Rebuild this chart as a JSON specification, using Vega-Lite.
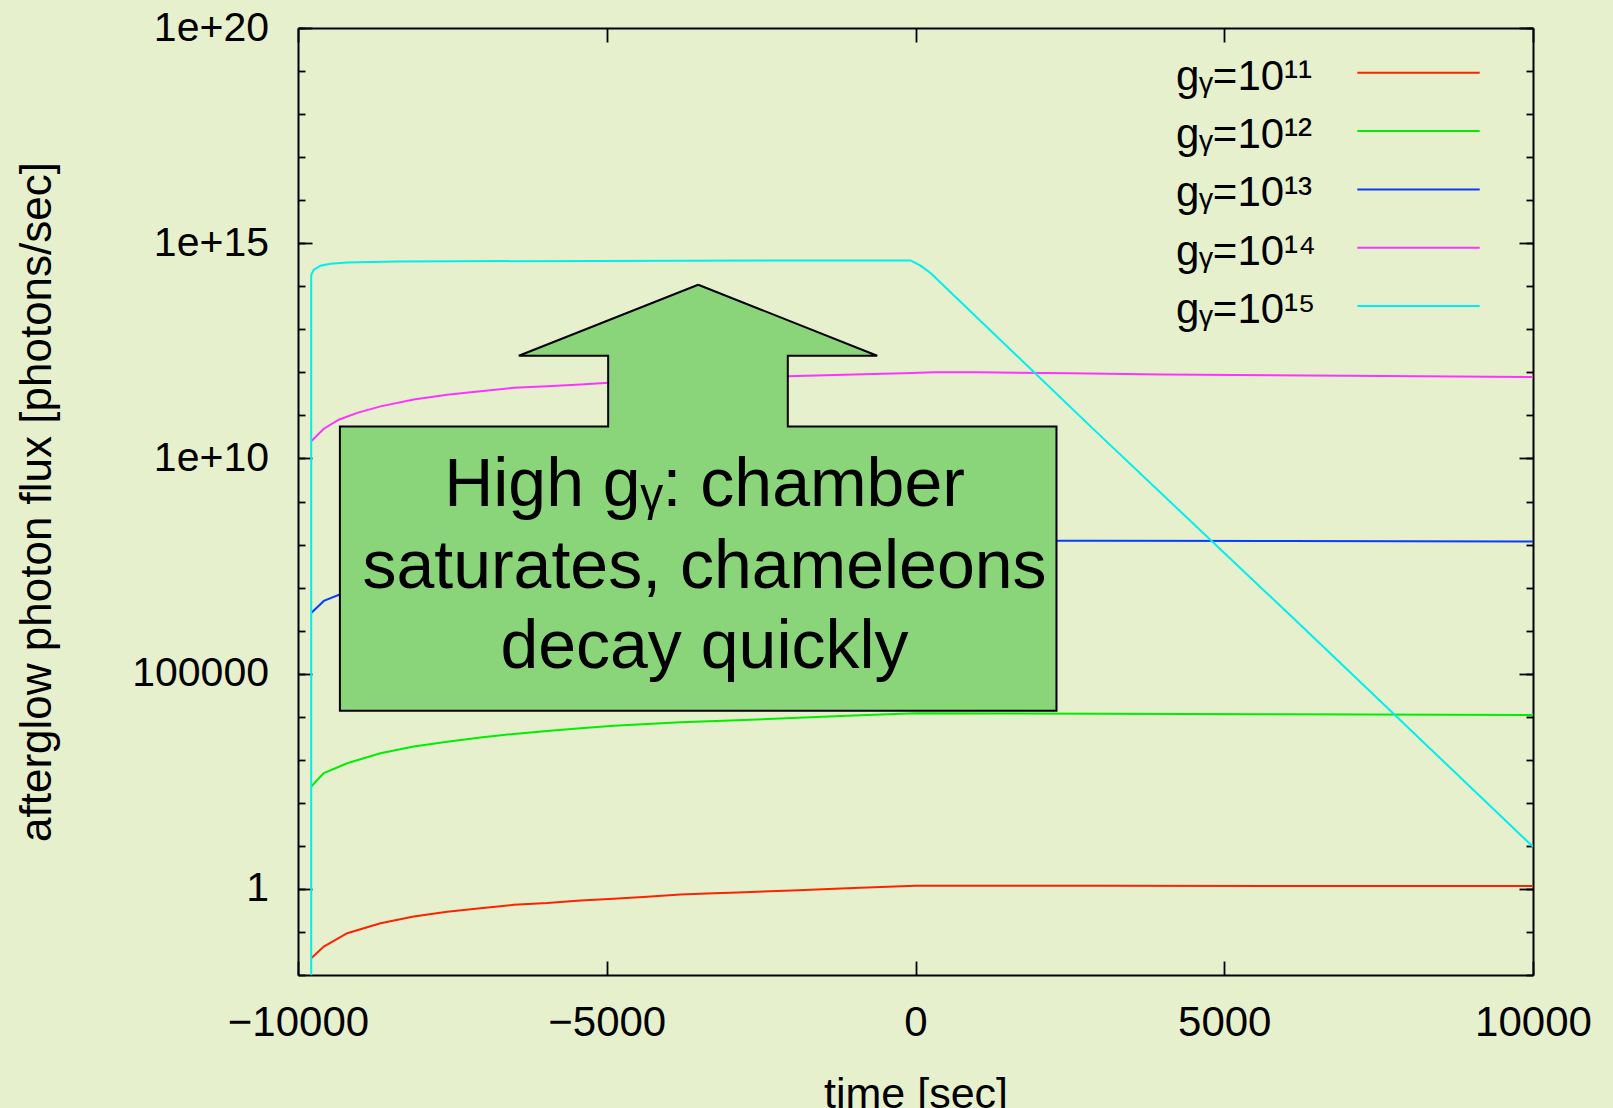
{
  "$schema": "https://vega.github.io/schema/vega-lite/v6.json",
  "width": 1235,
  "height": 947,
  "autosize": {"type": "none"},
  "padding": {"left": 298, "top": 28, "right": 80, "bottom": 133},
  "background": "#e6f0cd",
  "config": {
    "view": {"stroke": null, "fill": "#e6f0cd"},
    "font": "Liberation Sans",
    "axis": {"grid": false, "domainColor": "#000", "domainWidth": 2, "tickColor": "#000", "tickWidth": 1.8, "labelColor": "#000", "titleColor": "#000", "labelFont": "Liberation Sans", "titleFont": "Liberation Sans", "titleFontWeight": "normal", "labelFlush": false, "labelOverlap": false}
  },
  "datasets": {
    "curves": [
      {"s": "gᵧ=10¹¹", "t": -9786, "f": 0.02455, "i": 0},
      {"s": "gᵧ=10¹¹", "t": -9582, "f": 0.04571, "i": 1},
      {"s": "gᵧ=10¹¹", "t": -9203, "f": 0.09333, "i": 2},
      {"s": "gᵧ=10¹¹", "t": -8664, "f": 0.1585, "i": 3},
      {"s": "gᵧ=10¹¹", "t": -8125, "f": 0.2291, "i": 4},
      {"s": "gᵧ=10¹¹", "t": -7585, "f": 0.2951, "i": 5},
      {"s": "gᵧ=10¹¹", "t": -7045, "f": 0.3548, "i": 6},
      {"s": "gᵧ=10¹¹", "t": -6505, "f": 0.4266, "i": 7},
      {"s": "gᵧ=10¹¹", "t": -5964, "f": 0.4677, "i": 8},
      {"s": "gᵧ=10¹¹", "t": -5425, "f": 0.537, "i": 9},
      {"s": "gᵧ=10¹¹", "t": -4887, "f": 0.5888, "i": 10},
      {"s": "gᵧ=10¹¹", "t": -4346, "f": 0.6607, "i": 11},
      {"s": "gᵧ=10¹¹", "t": -3806, "f": 0.7413, "i": 12},
      {"s": "gᵧ=10¹¹", "t": -3267, "f": 0.7943, "i": 13},
      {"s": "gᵧ=10¹¹", "t": -2997, "f": 0.8128, "i": 14},
      {"s": "gᵧ=10¹¹", "t": -2000, "f": 0.9226, "i": 15},
      {"s": "gᵧ=10¹¹", "t": -1000, "f": 1.047, "i": 16},
      {"s": "gᵧ=10¹¹", "t": 0, "f": 1.189, "i": 17},
      {"s": "gᵧ=10¹¹", "t": 3000, "f": 1.18, "i": 18},
      {"s": "gᵧ=10¹¹", "t": 6000, "f": 1.175, "i": 19},
      {"s": "gᵧ=10¹¹", "t": 10000, "f": 1.17, "i": 20},
      {"s": "gᵧ=10¹²", "t": -9786, "f": 239.9, "i": 0},
      {"s": "gᵧ=10¹²", "t": -9582, "f": 489.8, "i": 1},
      {"s": "gᵧ=10¹²", "t": -9203, "f": 831.8, "i": 2},
      {"s": "gᵧ=10¹²", "t": -8664, "f": 1413, "i": 3},
      {"s": "gᵧ=10¹²", "t": -8125, "f": 2042, "i": 4},
      {"s": "gᵧ=10¹²", "t": -7585, "f": 2630, "i": 5},
      {"s": "gᵧ=10¹²", "t": -7045, "f": 3311, "i": 6},
      {"s": "gᵧ=10¹²", "t": -6505, "f": 3981, "i": 7},
      {"s": "gᵧ=10¹²", "t": -5964, "f": 4677, "i": 8},
      {"s": "gᵧ=10¹²", "t": -5425, "f": 5370, "i": 9},
      {"s": "gᵧ=10¹²", "t": -4887, "f": 6166, "i": 10},
      {"s": "gᵧ=10¹²", "t": -4346, "f": 6761, "i": 11},
      {"s": "gᵧ=10¹²", "t": -3806, "f": 7413, "i": 12},
      {"s": "gᵧ=10¹²", "t": -2997, "f": 8128, "i": 13},
      {"s": "gᵧ=10¹²", "t": -2000, "f": 9333, "i": 14},
      {"s": "gᵧ=10¹²", "t": -1000, "f": 10715, "i": 15},
      {"s": "gᵧ=10¹²", "t": 0, "f": 12023, "i": 16},
      {"s": "gᵧ=10¹²", "t": 3000, "f": 11749, "i": 17},
      {"s": "gᵧ=10¹²", "t": 6000, "f": 11350, "i": 18},
      {"s": "gᵧ=10¹²", "t": 10000, "f": 10965, "i": 19},
      {"s": "gᵧ=10¹³", "t": -9786, "f": 2.57e6, "i": 0},
      {"s": "gᵧ=10¹³", "t": -9582, "f": 4.898e6, "i": 1},
      {"s": "gᵧ=10¹³", "t": -9203, "f": 8.128e6, "i": 2},
      {"s": "gᵧ=10¹³", "t": -8664, "f": 1.38e7, "i": 3},
      {"s": "gᵧ=10¹³", "t": -8125, "f": 1.995e7, "i": 4},
      {"s": "gᵧ=10¹³", "t": -7585, "f": 2.57e7, "i": 5},
      {"s": "gᵧ=10¹³", "t": -7045, "f": 3.236e7, "i": 6},
      {"s": "gᵧ=10¹³", "t": -6505, "f": 3.89e7, "i": 7},
      {"s": "gᵧ=10¹³", "t": -5964, "f": 4.571e7, "i": 8},
      {"s": "gᵧ=10¹³", "t": -5425, "f": 5.248e7, "i": 9},
      {"s": "gᵧ=10¹³", "t": -4887, "f": 6.026e7, "i": 10},
      {"s": "gᵧ=10¹³", "t": -4346, "f": 6.761e7, "i": 11},
      {"s": "gᵧ=10¹³", "t": -3806, "f": 7.413e7, "i": 12},
      {"s": "gᵧ=10¹³", "t": -2997, "f": 8.128e7, "i": 13},
      {"s": "gᵧ=10¹³", "t": -2000, "f": 9.333e7, "i": 14},
      {"s": "gᵧ=10¹³", "t": -1000, "f": 1.072e8, "i": 15},
      {"s": "gᵧ=10¹³", "t": 0, "f": 1.23e8, "i": 16},
      {"s": "gᵧ=10¹³", "t": 3000, "f": 1.23e8, "i": 17},
      {"s": "gᵧ=10¹³", "t": 6000, "f": 1.202e8, "i": 18},
      {"s": "gᵧ=10¹³", "t": 10000, "f": 1.175e8, "i": 19},
      {"s": "gᵧ=10¹⁴", "t": -9786, "f": 2.512e10, "i": 0},
      {"s": "gᵧ=10¹⁴", "t": -9582, "f": 4.898e10, "i": 1},
      {"s": "gᵧ=10¹⁴", "t": -9339, "f": 7.943e10, "i": 2},
      {"s": "gᵧ=10¹⁴", "t": -9041, "f": 1.148e11, "i": 3},
      {"s": "gᵧ=10¹⁴", "t": -8664, "f": 1.622e11, "i": 4},
      {"s": "gᵧ=10¹⁴", "t": -8125, "f": 2.344e11, "i": 5},
      {"s": "gᵧ=10¹⁴", "t": -7585, "f": 3.02e11, "i": 6},
      {"s": "gᵧ=10¹⁴", "t": -7045, "f": 3.631e11, "i": 7},
      {"s": "gᵧ=10¹⁴", "t": -6505, "f": 4.365e11, "i": 8},
      {"s": "gᵧ=10¹⁴", "t": -5964, "f": 4.786e11, "i": 9},
      {"s": "gᵧ=10¹⁴", "t": -5425, "f": 5.248e11, "i": 10},
      {"s": "gᵧ=10¹⁴", "t": -4967, "f": 5.754e11, "i": 11},
      {"s": "gᵧ=10¹⁴", "t": -4000, "f": 6.457e11, "i": 12},
      {"s": "gᵧ=10¹⁴", "t": -3000, "f": 7.244e11, "i": 13},
      {"s": "gᵧ=10¹⁴", "t": -2068, "f": 8.128e11, "i": 14},
      {"s": "gᵧ=10¹⁴", "t": -1000, "f": 8.913e11, "i": 15},
      {"s": "gᵧ=10¹⁴", "t": -190, "f": 9.55e11, "i": 16},
      {"s": "gᵧ=10¹⁴", "t": 300, "f": 1.0e12, "i": 17},
      {"s": "gᵧ=10¹⁴", "t": 1000, "f": 1.0e12, "i": 18},
      {"s": "gᵧ=10¹⁴", "t": 2500, "f": 9.55e11, "i": 19},
      {"s": "gᵧ=10¹⁴", "t": 4000, "f": 8.913e11, "i": 20},
      {"s": "gᵧ=10¹⁴", "t": 7000, "f": 8.318e11, "i": 21},
      {"s": "gᵧ=10¹⁴", "t": 10000, "f": 7.762e11, "i": 22},
      {"s": "gᵧ=10¹⁵", "t": -9786, "f": 1e-5, "i": 0},
      {"s": "gᵧ=10¹⁵", "t": -9786, "f": 1.858e14, "i": 1},
      {"s": "gᵧ=10¹⁵", "t": -9744, "f": 2.427e14, "i": 2},
      {"s": "gᵧ=10¹⁵", "t": -9636, "f": 3.006e14, "i": 3},
      {"s": "gᵧ=10¹⁵", "t": -9474, "f": 3.342e14, "i": 4},
      {"s": "gᵧ=10¹⁵", "t": -9203, "f": 3.589e14, "i": 5},
      {"s": "gᵧ=10¹⁵", "t": -8394, "f": 3.784e14, "i": 6},
      {"s": "gᵧ=10¹⁵", "t": -3806, "f": 3.926e14, "i": 7},
      {"s": "gᵧ=10¹⁵", "t": -81, "f": 3.981e14, "i": 8},
      {"s": "gᵧ=10¹⁵", "t": 81, "f": 3.006e14, "i": 9},
      {"s": "gᵧ=10¹⁵", "t": 243, "f": 2.032e14, "i": 10},
      {"s": "gᵧ=10¹⁵", "t": 2834, "f": 5.559e10, "i": 11},
      {"s": "gᵧ=10¹⁵", "t": 6235, "f": 1.349e6, "i": 12},
      {"s": "gᵧ=10¹⁵", "t": 10000, "f": 9.55, "i": 13}
    ],
    "arrow": [
      {"t": -3519, "f": 1.0864e14, "i": 0},
      {"t": -620, "f": 2.438e12, "i": 1},
      {"t": -2068, "f": 2.438e12, "i": 2},
      {"t": -2068, "f": 5.559e10, "i": 3},
      {"t": 2283, "f": 5.559e10, "i": 4},
      {"t": 2283, "f": 13804, "i": 5},
      {"t": -9321.5, "f": 13804, "i": 6},
      {"t": -9321.5, "f": 5.559e10, "i": 7},
      {"t": -4977, "f": 5.559e10, "i": 8},
      {"t": -4977, "f": 2.438e12, "i": 9},
      {"t": -6424, "f": 2.438e12, "i": 10},
      {"t": -3519, "f": 1.0864e14, "i": 11}
    ],
    "note": [
      {"t": -3417, "f": 7.691e8, "txt": "High gᵧ: chamber"},
      {"t": -3417, "f": 9.772e6, "txt": "saturates, chameleons"},
      {"t": -3417, "f": 1.3552e5, "txt": "decay quickly"}
    ]
  },
  "resolve": {"axis": {"x": "independent", "y": "independent"}},
  "layer": [
    {
      "data": {"name": "curves"},
      "mark": {"type": "line", "strokeWidth": 2, "clip": true},
      "encoding": {
        "x": {"field": "t", "type": "quantitative",
          "scale": {"domain": [-10000, 10000], "nice": false, "zero": false},
          "axis": {"orient": "bottom", "values": [-10000, -5000, 0, 5000, 10000], "format": "d", "tickSize": -14, "labelFontSize": 42, "labelPadding": 41, "title": "time [sec]", "titleFontSize": 43, "titlePadding": 30}},
        "y": {"field": "f", "type": "quantitative",
          "scale": {"type": "log", "domain": [0.01, 1e20], "nice": false},
          "axis": {"orient": "left", "values": [1, 100000, 1e10, 1e15, 1e20], "tickSize": -14, "labelFontSize": 41, "labelPadding": 43.5,
            "labelExpr": "datum.value >= 1e10 ? '1e+' + round(log(datum.value)/LN10) : format(datum.value, 'd')",
            "title": "afterglow photon flux [photons/sec]", "titleFontSize": 44, "titlePadding": 72}},
        "color": {"field": "s", "type": "nominal",
          "scale": {"domain": ["gᵧ=10¹¹", "gᵧ=10¹²", "gᵧ=10¹³", "gᵧ=10¹⁴", "gᵧ=10¹⁵"], "range": ["#ff2200", "#00ee00", "#0a3cff", "#ff33ff", "#00eeee"]},
          "legend": {"orient": "none", "legendX": 1099, "legendY": 23.3, "title": null, "direction": "vertical", "symbolType": "M-3,0H3", "symbolSize": 1665, "symbolStrokeWidth": 2, "labelFont": "Liberation Sans", "labelFontSize": 42, "labelColor": "#000", "labelAlign": "left", "labelOffset": -264, "labelLimit": 500, "rowPadding": 11.3, "padding": 0,
            "encode": {"labels": {"update": {"dy": {"value": 4}}}}}},
        "order": {"field": "i", "type": "quantitative"}
      }
    },
    {
      "data": {"name": "arrow"},
      "mark": {"type": "line", "fill": "#8ad57a", "strokeOpacity": 0},
      "encoding": {
        "x": {"field": "t", "type": "quantitative",
          "scale": {"domain": [-10000, 10000], "nice": false, "zero": false},
          "axis": {"orient": "top", "values": [-10000, -5000, 0, 5000, 10000], "tickSize": -14, "labels": false, "title": null}},
        "y": {"field": "f", "type": "quantitative",
          "scale": {"type": "log", "domain": [0.01, 1e20], "nice": false},
          "axis": {"orient": "right", "values": [1, 100000, 1e10, 1e15, 1e20], "tickSize": -14, "labels": false, "title": null}},
        "order": {"field": "i", "type": "quantitative"}
      }
    },
    {
      "data": {"name": "arrow"},
      "mark": {"type": "line", "color": "#000", "strokeWidth": 2, "strokeJoin": "miter"},
      "encoding": {
        "x": {"field": "t", "type": "quantitative",
          "scale": {"domain": [-10000, 10000], "nice": false, "zero": false}, "axis": null},
        "y": {"field": "f", "type": "quantitative",
          "scale": {"type": "log", "domain": [0.01, 1e20], "nice": false},
          "axis": {"orient": "left", "values": [0.01, 0.1, 1, 10, 100, 1000, 10000, 100000, 1e6, 1e7, 1e8, 1e9, 1e10, 1e11, 1e12, 1e13, 1e14, 1e15, 1e16, 1e17, 1e18, 1e19, 1e20], "tickSize": -7, "labels": false, "domain": false, "title": null}},
        "order": {"field": "i", "type": "quantitative"}
      }
    },
    {
      "data": {"name": "note"},
      "mark": {"type": "text", "align": "center", "baseline": "alphabetic", "fontSize": 68, "font": "Liberation Sans", "color": "#000"},
      "encoding": {
        "x": {"field": "t", "type": "quantitative",
          "scale": {"domain": [-10000, 10000], "nice": false, "zero": false}, "axis": null},
        "y": {"field": "f", "type": "quantitative",
          "scale": {"type": "log", "domain": [0.01, 1e20], "nice": false},
          "axis": {"orient": "right", "values": [0.01, 0.1, 1, 10, 100, 1000, 10000, 100000, 1e6, 1e7, 1e8, 1e9, 1e10, 1e11, 1e12, 1e13, 1e14, 1e15, 1e16, 1e17, 1e18, 1e19, 1e20], "tickSize": -7, "labels": false, "domain": false, "title": null}},
        "text": {"field": "txt"}
      }
    }
  ]
}
